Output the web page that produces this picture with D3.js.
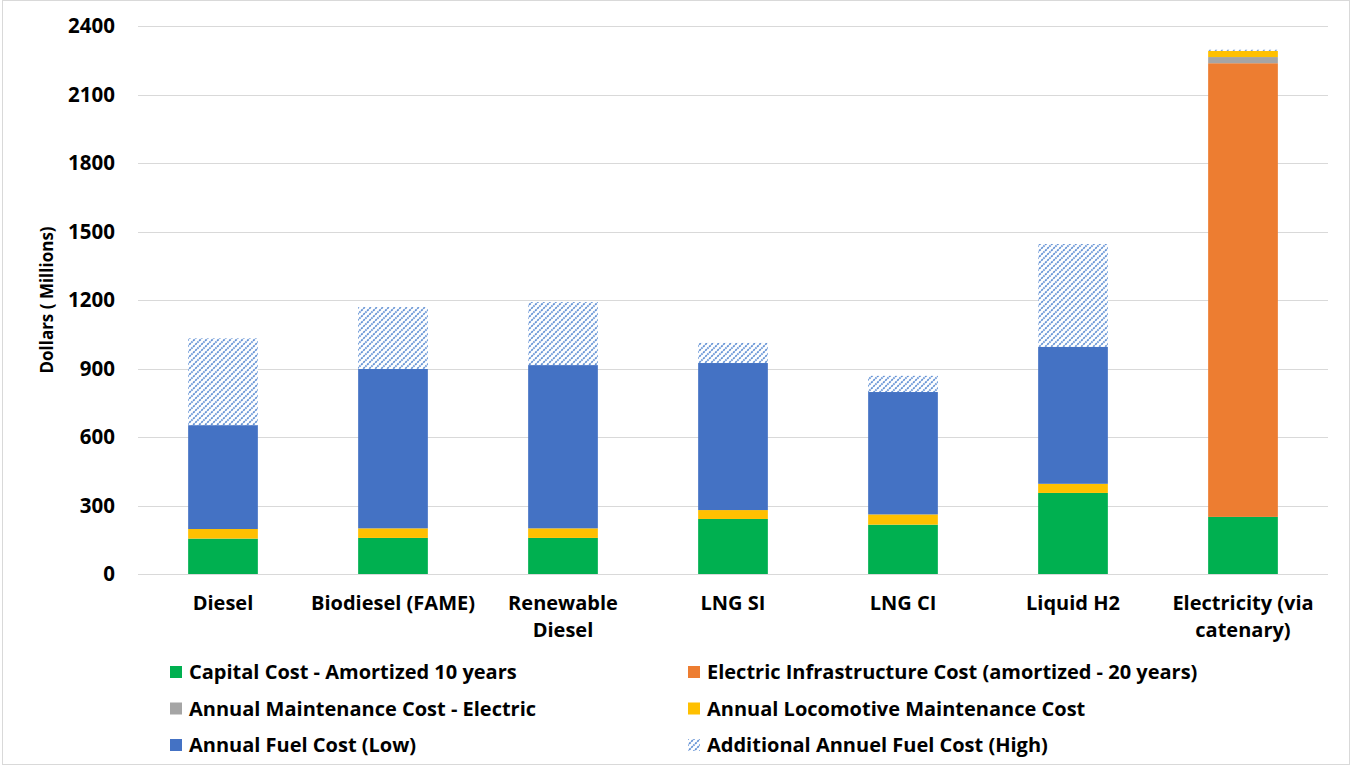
<!DOCTYPE html>
<html>
<head>
<meta charset="utf-8">
<script src="https://cdnjs.cloudflare.com/ajax/libs/d3/7.8.5/d3.min.js"></script>
<style>
  body { margin: 0; background: #fff; }
  svg { font-family: "Open Sans", Lato, sans-serif; font-weight: bold; }
</style>
</head>
<body>
<svg width="1353" height="767"></svg>
<script>
// categories (line breaks as in the original axis labels)
const categories = ["Diesel", "Biodiesel (FAME)", "Renewable\nDiesel", "LNG SI", "LNG CI", "Liquid H2", "Electricity (via\ncatenary)"];

// series values, millions of dollars
const capitalCost     = [155, 158, 158, 241, 216, 355, 250];
const electricInfra   = [0, 0, 0, 0, 0, 0, 1987];
const maintElectric   = [0, 0, 0, 0, 0, 0, 27];
const maintLocomotive = [42, 42, 42, 39, 45, 40, 27];
const fuelLow         = [455, 698, 715, 644, 536, 600, 0];
const fuelHighExtra   = [380, 271, 276, 88, 71, 450, 5];

const yTicks = [0, 300, 600, 900, 1200, 1500, 1800, 2100, 2400];

const seriesNames = {
    capital: "Capital Cost - Amortized 10 years",
    infra: "Electric Infrastructure Cost (amortized - 20 years)",
    maintE: "Annual Maintenance Cost - Electric",
    maintL: "Annual Locomotive Maintenance Cost",
    fuel: "Annual Fuel Cost (Low)",
    extra: "Additional Annuel Fuel Cost (High)"
};

const keys = ["capital", "infra", "maintE", "maintL", "fuel", "extra"];
const fills = {
    capital: "#00B050",
    infra: "#ED7D31",
    maintE: "#A5A5A5",
    maintL: "#FFC000",
    fuel: "#4472C4",
    extra: "url(#hatch)"
};

const rows = categories.map((c, i) => ({
    cat: c,
    capital: capitalCost[i],
    infra: electricInfra[i],
    maintE: maintElectric[i],
    maintL: maintLocomotive[i],
    fuel: fuelLow[i],
    extra: fuelHighExtra[i]
}));

const svg = d3.select("svg");

// hatch pattern for the high fuel cost
const defs = svg.append("defs");
const pat = defs.append("pattern")
    .attr("id", "hatch")
    .attr("patternUnits", "userSpaceOnUse")
    .attr("width", 6).attr("height", 6);
pat.append("rect").attr("width", 6).attr("height", 6).attr("fill", "#fff");
pat.append("path")
    .attr("d", "M-1,7 L7,-1 M-1,1 L1,-1 M5,7 L7,5")
    .attr("stroke", "#5f8fd4")
    .attr("stroke-width", 1.7)
    .attr("stroke-dasharray", "2.2,0.8");

// outer chart border
svg.append("rect")
    .attr("x", 2.5).attr("y", 0.5)
    .attr("width", 1347).attr("height", 764)
    .attr("fill", "none")
    .attr("stroke", "#d9d9d9");

const x = d3.scaleBand()
    .domain(categories)
    .range([138, 1328])
    .paddingInner(0.59)
    .paddingOuter(0.295);

const y = d3.scaleLinear()
    .domain([0, 2400])
    .range([574, 26]);

// gridlines
svg.append("g")
    .selectAll("line")
    .data(yTicks)
    .join("line")
    .attr("x1", 138).attr("x2", 1328)
    .attr("y1", d => Math.round(y(d)) + 0.5)
    .attr("y2", d => Math.round(y(d)) + 0.5)
    .attr("stroke", "#d9d9d9")
    .attr("stroke-width", 1);

// y axis labels
const yAxis = svg.append("g")
    .attr("transform", "translate(138,0)")
    .call(d3.axisLeft(y).tickValues(yTicks).tickFormat(d3.format("d")).tickSize(0).tickPadding(23));
yAxis.select(".domain").remove();
yAxis.selectAll("text")
    .attr("font-family", "'Open Sans', sans-serif")
    .attr("font-weight", "bold")
    .attr("font-size", 20.5)
    .attr("fill", "#000");

svg.append("text")
    .attr("transform", `translate(53,${y(1200)}) rotate(-90)`)
    .attr("text-anchor", "middle")
    .attr("font-size", 17)
    .text("Dollars ( Millions)");

// stacked bars
const stacked = d3.stack().keys(keys)(rows);

svg.append("g")
    .selectAll("g")
    .data(stacked)
    .join("g")
    .attr("fill", d => fills[d.key])
    .selectAll("rect")
    .data(d => d)
    .join("rect")
    .attr("x", d => x(d.data.cat))
    .attr("width", x.bandwidth())
    .attr("y", d => y(d[1]))
    .attr("height", d => y(d[0]) - y(d[1]));

// category labels
const xLab = svg.append("g")
    .selectAll("text")
    .data(categories)
    .join("text")
    .attr("x", d => x(d) + x.bandwidth() / 2)
    .attr("y", 610)
    .attr("text-anchor", "middle")
    .attr("font-size", 20);
xLab.selectAll("tspan")
    .data(d => d.split("\n"))
    .join("tspan")
    .attr("x", function() { return this.parentNode.getAttribute("x"); })
    .attr("dy", (d, i) => i === 0 ? 0 : 27)
    .text(d => d);

// legend, two columns
const legendOrder = ["capital", "infra", "maintE", "maintL", "fuel", "extra"];
const legend = svg.append("g")
    .selectAll("g")
    .data(legendOrder)
    .join("g")
    .attr("transform", (d, i) => `translate(${i % 2 === 0 ? 170 : 688},${672 + Math.floor(i / 2) * 36.5})`);
legend.append("rect")
    .attr("x", 0).attr("y", -6)
    .attr("width", 12).attr("height", 12)
    .attr("fill", d => fills[d]);
legend.append("text")
    .attr("x", 19)
    .attr("dy", "0.36em")
    .attr("font-size", 20)
    .text(d => seriesNames[d]);
</script>
</body>
</html>
